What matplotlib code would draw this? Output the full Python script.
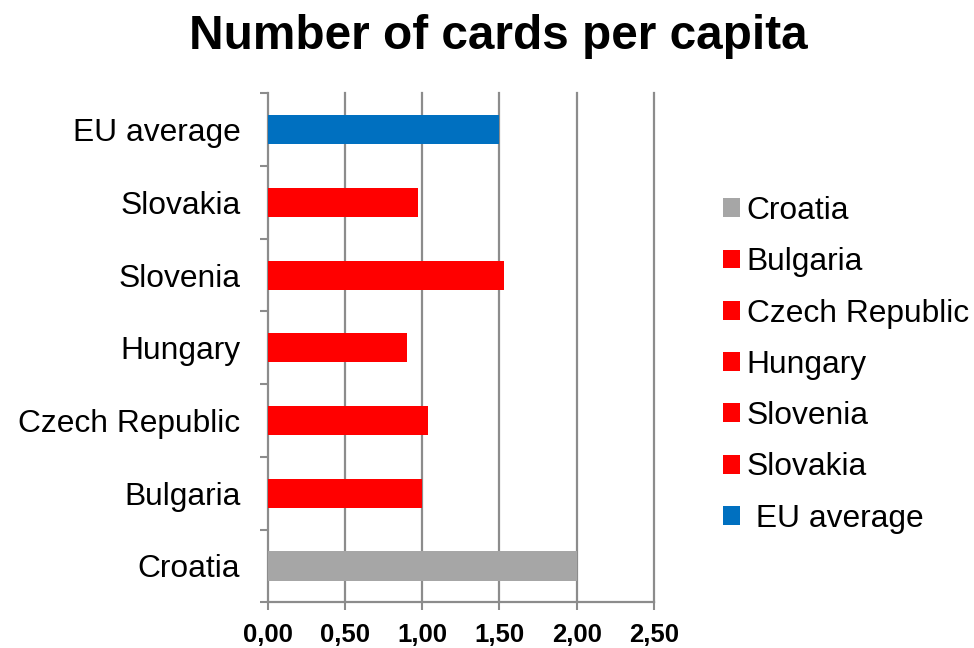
import matplotlib
matplotlib.use("Agg")
import matplotlib.pyplot as plt
from matplotlib.patches import Patch
import numpy as np

plt.rcParams['font.family'] = ['Liberation Sans', 'DejaVu Sans']

categories = ["Croatia", "Bulgaria", "Czech Republic", "Hungary", "Slovenia", "Slovakia", "EU average"]
values = [2.00, 1.00, 1.04, 0.90, 1.53, 0.97, 1.50]
colors = ["#A6A6A6", "#FF0000", "#FF0000", "#FF0000", "#FF0000", "#FF0000", "#0070C0"]
legend_labels = ["Croatia", "Bulgaria", "Czech Republic", "Hungary", "Slovenia", "Slovakia", " EU average"]
xticks = [0.0, 0.5, 1.0, 1.5, 2.0, 2.5]
xtick_labels = ["0,00", "0,50", "1,00", "1,50", "2,00", "2,50"]
title = "Number of cards per capita"

fig = plt.figure(figsize=(9.74, 6.48), dpi=100)
ax = fig.add_axes([0.2752, 0.0705, 0.3960, 0.7855])

y = np.arange(len(categories))
ax.barh(y, values, height=0.4, color=colors, zorder=3)

ax.set_xlim(0, 2.5)
ax.set_ylim(-0.5, len(categories) - 0.5)

grid_c = "#8C8C8C"
ax.set_xticks(xticks)
ax.set_xticklabels(xtick_labels, fontsize=18.5, fontweight='bold')
ax.tick_params(axis='x', length=5.5, width=1.5, color=grid_c, pad=9.5, direction='out')
for xv in xticks[1:]:
    ax.axvline(xv, color=grid_c, lw=1.6, zorder=1, clip_on=False)

ax.set_yticks(y)
ax.set_yticklabels(categories, fontsize=22.9)
ax.tick_params(axis='y', which='major', length=0, pad=20)
ax.set_yticks(np.arange(-0.5, len(categories), 1.0), minor=True)
ax.tick_params(axis='y', which='minor', length=5.5, width=1.5, color=grid_c, direction='out')

for s in ['top', 'right']:
    ax.spines[s].set_visible(False)
for s in ['left', 'bottom']:
    ax.spines[s].set_color(grid_c)
    ax.spines[s].set_linewidth(1.6)

handles = [Patch(facecolor=c, edgecolor='none') for c in colors]
fig.legend(handles, legend_labels, loc='center left', bbox_to_anchor=(0.742, 0.437),
           frameon=False, fontsize=22.9, handlelength=0.53, handleheight=0.53,
           handletextpad=0.22, labelspacing=0.67, borderpad=0, borderaxespad=0)

fig.text(0.512, 0.943, title, ha='center', va='center', fontsize=34.4, fontweight='bold')

fig.savefig("out.png", dpi=100)
